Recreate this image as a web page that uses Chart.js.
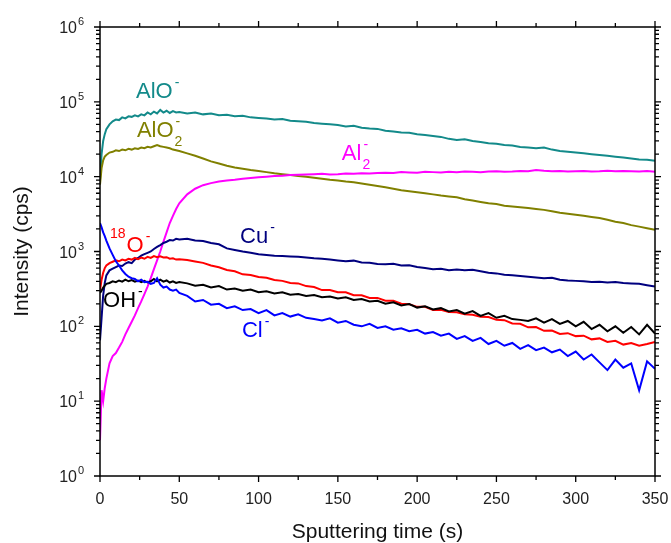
<!DOCTYPE html>
<html>
<head>
<meta charset="utf-8">
<script src="https://cdn.jsdelivr.net/npm/chart.js@4.4.0/dist/chart.umd.min.js"></script>
<style>
  html, body { margin: 0; padding: 0; background: #fff; }
  canvas { display: block; }
</style>
</head>
<body>
<canvas id="chart" width="671" height="543"></canvas>
<script>
// sputtering time (s)
const times = [0,1,2,3,4,6,8,10,12,14,16,18,20,22,24,26,28,30,32,34,36,38,40,42,44,46,48,50,
  55,60,65,70,75,80,85,90,95,100,
  105,110,115,120,125,130,135,140,145,150,
  155,160,165,170,175,180,185,190,195,200,
  205,210,215,220,225,230,235,240,245,250,
  255,260,265,270,275,280,285,290,295,300,
  305,310,315,320,325,330,335,340,345,350];

// intensities (cps), one value per time
const alo = [9000,20000,30000,37000,43000,50000,55000,58000,57000,62000,60000,64000,63000,66000,64000,68000,66000,72000,68000,74000,70000,78000,72000,76000,71000,75000,72000,73000,
  70000,72000,68000,70000,66000,67000,64000,65000,62000,61000,
  60000,58000,59000,56000,55000,54000,52000,51000,50000,49000,
  47000,48000,45000,44000,43500,41000,40000,39000,38500,37000,
  36000,35000,34000,32000,31000,31500,30000,29000,28000,27500,
  26500,26000,25000,24500,24000,24500,23000,22000,21500,21000,
  20500,20000,19500,19000,18500,18000,17500,17000,16800,16300];

const alo2 = [7800,13000,16500,18500,19500,21000,21500,22500,22000,23000,22500,23500,23000,24000,23500,24500,24000,25000,24500,25500,26500,25500,25000,24500,24000,23000,22500,22000,
  20500,19000,17500,16000,15000,14000,13300,12800,12300,11900,
  11500,11100,10800,10500,10200,10000,9700,9400,9100,8900,
  8600,8400,8100,7800,7500,7200,6900,6600,6400,6200,
  6000,5800,5600,5450,5300,5000,4800,4600,4400,4300,
  4100,4000,3900,3800,3700,3600,3450,3300,3200,3100,
  3000,2900,2800,2650,2500,2400,2250,2150,2050,1950];

const al2 = [3,14,10,15,20,32,40,44,52,62,78,95,115,140,175,215,270,340,440,580,760,1000,1350,1800,2400,3000,3700,4400,
  5800,6900,7700,8200,8600,8900,9100,9400,9600,9800,
  10000,10200,10300,10500,10600,10700,10800,10900,10700,10800,
  11000,10900,11100,11000,11200,11300,11200,11500,11400,11300,
  11600,11500,11400,11600,11500,11700,11600,11500,11700,11800,
  11600,11700,11900,11800,12300,12000,11800,11900,11700,11800,
  11900,11700,11800,12000,11800,11900,11800,11700,11900,11600];

const cu = [65,130,260,380,480,560,590,620,650,640,690,720,700,780,820,880,920,960,1000,1080,1150,1220,1300,1350,1420,1400,1480,1450,
  1480,1400,1380,1300,1250,1100,1050,1000,960,920,
  900,880,870,860,850,830,810,800,780,760,
  740,755,715,705,680,675,685,650,655,620,
  600,580,590,560,575,560,570,545,520,510,
  490,480,470,460,450,440,445,420,410,405,
  400,390,395,385,390,380,375,370,355,340];

const o18 = [300,420,520,600,650,700,730,760,740,780,760,800,780,820,790,830,800,850,820,870,840,860,830,840,800,810,780,790,
  770,735,705,650,615,565,545,495,485,455,
  445,415,405,380,375,345,335,305,305,285,
  285,260,260,240,240,220,220,200,198,182,
  182,165,166,155,154,145,143,134,133,122,
  121,109,108,97,98,87,88,79,81,74,
  75,67,69,62,64,57,60,55,58,62];

const oh = [280,300,330,350,370,380,400,390,410,395,420,400,415,395,410,390,405,385,400,430,400,420,395,410,385,400,380,390,
  375,350,360,330,345,310,320,300,310,285,
  295,275,285,265,270,255,262,245,250,235,
  245,225,232,215,220,200,210,190,198,178,
  185,168,175,158,165,148,160,138,150,130,
  138,125,122,118,128,112,125,108,118,100,
  115,92,105,86,100,82,98,78,105,80];

const cl = [2400,2100,1800,1600,1400,1100,900,740,650,560,500,460,440,430,400,420,390,395,370,380,440,360,330,340,310,300,310,280,
  255,215,225,195,200,175,185,165,170,150,
  165,140,150,135,145,130,125,120,128,112,
  118,105,100,108,95,100,90,94,86,90,
  80,84,75,80,68,74,64,70,58,64,
  55,60,50,56,48,52,45,49,40,46,
  36,42,33,26,36,28,32,14,34,27];

const xTicks = [0,50,100,150,200,250,300,350];
const xMinorTicks = [25,75,125,175,225,275,325];
const yExponents = [0,1,2,3,4,5,6];

const seriesList = [
  {name: 'Cl-', data: cl, color: '#0000ff'},
  {name: 'OH-', data: oh, color: '#000000'},
  {name: '18O-', data: o18, color: '#ff0000'},
  {name: 'Cu-', data: cu, color: '#00007f'},
  {name: 'Al2-', data: al2, color: '#ff00ff'},
  {name: 'AlO2-', data: alo2, color: '#808000'},
  {name: 'AlO-', data: alo, color: '#138a8a'}
];

// in-plot labels, anchored in data units (time, cps) at the left baseline
const labels = [
  {main: 'AlO', sup: '-', t: 22.7, v: 113000, color: '#138a8a'},
  {main: 'AlO', sup: '-', sub: '2', t: 23.3, v: 34000, color: '#808000'},
  {main: 'Al', sup: '-', sub: '2', t: 152.5, v: 16800, color: '#ff00ff'},
  {pre: '18', main: 'O', sup: '-', t: 6.3, v: 990, color: '#ff0000'},
  {main: 'Cu', sup: '-', t: 88.3, v: 1300, color: '#00007f'},
  {main: 'OH', sup: '-', t: 1.9, v: 180, color: '#000000'},
  {main: 'Cl', sup: '-', t: 89.5, v: 72, color: '#0000ff'}
];

const FONT = 'Arial, "Liberation Sans", sans-serif';

const frame = {
  id: 'frame',
  afterDatasetsDraw(chart) {
    const ctx = chart.ctx;
    const a = chart.chartArea;
    const x = chart.scales.x, y = chart.scales.y;
    ctx.save();

    // box
    ctx.strokeStyle = '#000';
    ctx.lineWidth = 1.5;
    ctx.strokeRect(a.left, a.top, a.right - a.left, a.bottom - a.top);

    // ticks, all pointing outward
    ctx.lineWidth = 1.3;
    ctx.beginPath();
    xTicks.forEach(v => {
      const px = x.getPixelForValue(v);
      ctx.moveTo(px, a.bottom); ctx.lineTo(px, a.bottom + 6);
      ctx.moveTo(px, a.top); ctx.lineTo(px, a.top - 6);
    });
    xMinorTicks.forEach(v => {
      const px = x.getPixelForValue(v);
      ctx.moveTo(px, a.bottom); ctx.lineTo(px, a.bottom + 4);
      ctx.moveTo(px, a.top); ctx.lineTo(px, a.top - 4);
    });
    yExponents.forEach(e => {
      const py = y.getPixelForValue(Math.pow(10, e));
      ctx.moveTo(a.left, py); ctx.lineTo(a.left - 6, py);
      ctx.moveTo(a.right, py); ctx.lineTo(a.right + 6, py);
      if (e < 6) {
        for (let m = 2; m <= 9; m++) {
          const pm = y.getPixelForValue(m * Math.pow(10, e));
          ctx.moveTo(a.left, pm); ctx.lineTo(a.left - 4, pm);
          ctx.moveTo(a.right, pm); ctx.lineTo(a.right + 4, pm);
        }
      }
    });
    ctx.stroke();

    // tick labels
    ctx.fillStyle = '#222';
    ctx.font = '16px ' + FONT;
    ctx.textAlign = 'center';
    ctx.textBaseline = 'alphabetic';
    xTicks.forEach(v => {
      ctx.fillText(String(v), x.getPixelForValue(v), a.bottom + 28);
    });
    yExponents.forEach(e => {
      const py = y.getPixelForValue(Math.pow(10, e));
      ctx.font = '16px ' + FONT;
      ctx.textAlign = 'right';
      ctx.fillText('10', a.left - 23, py + 6);
      ctx.font = '11px ' + FONT;
      ctx.textAlign = 'left';
      ctx.fillText(String(e), a.left - 22, py - 2);
    });

    // axis titles
    ctx.fillStyle = '#111';
    ctx.font = '21px ' + FONT;
    ctx.textAlign = 'center';
    ctx.fillText('Sputtering time (s)', (a.left + a.right) / 2, 538);
    ctx.save();
    ctx.translate(22, (a.top + a.bottom) / 2);
    ctx.rotate(-Math.PI / 2);
    ctx.textBaseline = 'middle';
    ctx.fillText('Intensity (cps)', 0, 0);
    ctx.restore();

    // series labels
    labels.forEach(l => {
      let px = x.getPixelForValue(l.t);
      const py = y.getPixelForValue(l.v);
      ctx.fillStyle = l.color;
      ctx.textAlign = 'left';
      ctx.textBaseline = 'alphabetic';
      if (l.pre) {
        ctx.font = '14px ' + FONT;
        ctx.fillText(l.pre, px, py - 14);
        px += ctx.measureText(l.pre).width + 1;
      }
      ctx.font = '22px ' + FONT;
      ctx.fillText(l.main, px, py);
      px += ctx.measureText(l.main).width + 1;
      ctx.font = '14px ' + FONT;
      if (l.sub) ctx.fillText(l.sub, px, py + 9);
      if (l.sup) ctx.fillText(l.sup, px + 1, py - 11);
    });

    ctx.restore();
  }
};

new Chart(document.getElementById('chart'), {
  type: 'line',
  data: {
    datasets: seriesList.map(s => ({
      label: s.name,
      data: times.map((t, i) => ({x: t, y: s.data[i]})),
      borderColor: s.color,
      borderWidth: 2,
      pointRadius: 0,
      tension: 0,
      fill: false
    }))
  },
  options: {
    responsive: false,
    animation: false,
    layout: {padding: {left: 100, top: 27, right: 16, bottom: 67}},
    plugins: {legend: {display: false}, tooltip: {enabled: false}},
    scales: {
      x: {type: 'linear', min: 0, max: 350, display: false},
      y: {type: 'logarithmic', min: 1, max: 1000000, display: false}
    }
  },
  plugins: [frame]
});
</script>
</body>
</html>
